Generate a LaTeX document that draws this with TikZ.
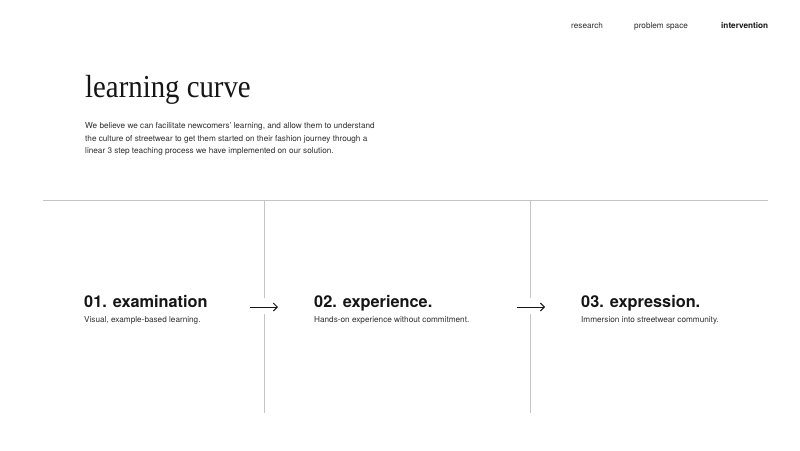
\documentclass[tikz,border=0pt]{standalone}
\usepackage{fontspec}
\setmainfont{TeX Gyre Heros}
\newfontfamily\titlefont{Liberation Serif}
\usetikzlibrary{arrows.meta}
\definecolor{rule}{HTML}{C4C4C4}
\definecolor{ink}{HTML}{151515}
\definecolor{body}{HTML}{2E2E2E}
\begin{document}
\begin{tikzpicture}[x=1pt,y=-1pt,
	txt/.style={anchor=base west,inner sep=0pt,text=body,font=\fontsize{8.2}{10}\selectfont},
	head/.style={anchor=base west,inner sep=0pt,text=ink,font=\fontsize{16.3}{18}\selectfont\bfseries},
	sep/.style={draw=rule,line width=0.9pt},
	arr/.style={draw=ink,line width=0.9pt,-{Straight Barb[length=4pt,width=8pt]}}]
	\useasboundingbox (0,0) rectangle (800,450);

	% top menu
	\node[txt] (research) at (571,28) {research};
	\node[txt] (problem) at (634,28) {problem space};
	\node[txt,text=ink,font=\fontsize{8.2}{10}\selectfont\bfseries] (intervention) at (721,28) {intervention};

	\node[anchor=base west,inner sep=0pt,text=ink,font=\titlefont\fontsize{32}{34}\selectfont] (title) at (85,97) {\scalebox{0.9}[1]{learning curve}};
	\foreach \y/\t [count=\i] in {128.5/{We believe we can facilitate newcomers’ learning, and allow them to understand},
		141/{the culture of streetwear to get them started on their fashion journey through a},
		153.5/{linear 3 step teaching process we have implemented on our solution.}}
		\node[txt] (intro\i) at (85,\y) {\t};

	% grid lines
	\coordinate (l0) at (43,200);
	\coordinate (l1) at (768,200);
	\draw[sep] (l0) -- (l1);
	\foreach \x in {264,530} {
		\coordinate (v\x a) at (\x,200);
		\coordinate (v\x b) at (\x,298);
		\coordinate (v\x c) at (\x,314);
		\coordinate (v\x d) at (\x,413);
		\draw[sep] (v\x a) -- (v\x b);
		\draw[sep] (v\x c) -- (v\x d);
	}

	% steps
	\foreach \x/\h/\s [count=\i] in {84/{01. examination}/{Visual, example-based learning.},
		314/{02. experience.}/{Hands-on experience without commitment.},
		581/{03. expression.}/{Immersion into streetwear community.}} {
		\node[head] (h\i) at (\x,307) {\h};
		\node[txt] (s\i) at (\x,322) {\s};
	}
	\foreach \x [count=\i] in {250,517} {
		\coordinate (a\i) at (\x,307);
		\coordinate (b\i) at (\x+28,307);
		\draw[arr] (a\i) -- (b\i);
	}
\end{tikzpicture}
\end{document}
